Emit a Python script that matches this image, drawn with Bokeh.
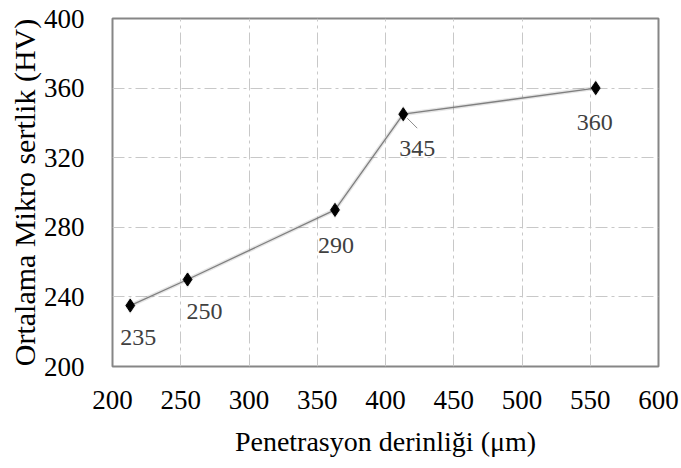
from bokeh.plotting import figure
from bokeh.models import ColumnDataSource, Range1d, FixedTicker
from bokeh.core.properties import value
from bokeh.embed import file_html
from bokeh.resources import INLINE

# Penetration depth (µm) and mean micro-hardness (HV)
depth = [213, 255, 363, 413, 554]
hardness = [235, 250, 290, 345, 360]
point_labels = ["235", "250", "290", "345", "360"]
x_ticks = [200, 250, 300, 350, 400, 450, 500, 550, 600]
y_ticks = [200, 240, 280, 320, 360, 400]

# label placement in screen pixels (right, down) relative to each point
lab_dx = [8, 17, 1, 14, -1]
lab_dy = [32, 32, 36, 34, 34]

FONT = "'Liberation Serif', 'Times New Roman', serif"

p = figure(width=681, height=468, output_backend="svg", toolbar_location=None,
           x_range=Range1d(200, 600), y_range=Range1d(200, 400),
           min_border_left=112, min_border_right=23,
           min_border_top=18, min_border_bottom=102)
p.background_fill_color = "white"
p.border_fill_color = "white"
p.outline_line_color = "#868686"
p.outline_line_width = 2

for ax in (p.xaxis, p.yaxis):
    ax.axis_line_color = None
    ax.major_tick_line_color = None
    ax.minor_tick_line_color = None
    ax.major_label_text_font = FONT
    ax.major_label_text_font_size = "27px"
    ax.major_label_text_color = "black"
    ax.axis_label_text_font = FONT
    ax.axis_label_text_font_style = "normal"
    ax.axis_label_text_color = "black"

p.xaxis.axis_label_text_font_size = "28px"
p.yaxis.axis_label_text_font_size = "30px"
p.xaxis.ticker = FixedTicker(ticks=x_ticks)
p.yaxis.ticker = FixedTicker(ticks=y_ticks)
p.xaxis.major_label_standoff = 18
p.yaxis.major_label_standoff = 22
p.xaxis.axis_label = "Penetrasyon derinliği (μm)"
p.yaxis.axis_label = "Ortalama Mikro sertlik (HV)"
p.xaxis.axis_label_standoff = 14
p.yaxis.axis_label_standoff = 0

for g in (p.xgrid, p.ygrid):
    g.grid_line_color = "#c8c8c8"
    g.grid_line_width = 1
    g.grid_line_dash = "12 4 3 4"

src = ColumnDataSource(dict(x=depth, y=hardness, t=point_labels, dx=lab_dx, dy=lab_dy))

# soft shadow beneath series
p.line("x", "y", source=src, line_color="#000000", line_alpha=0.10, line_width=4)
p.line("x", "y", source=src, line_color="#7f7f7f", line_width=1.3)
p.scatter("x", "y", source=src, marker="diamond", size=17, fill_color="#000000",
          fill_alpha=0.12, line_color=None)
p.scatter("x", "y", source=src, marker="diamond", size=13, fill_color="black",
          line_color="black")

# short leader line for the 345 label
i = 3
sx = 400 / 546.0
sy = 200 / 348.0
p.segment(x0=[depth[i] + 4 * sx], y0=[hardness[i] - 4 * sy],
          x1=[depth[i] + 14 * sx], y1=[hardness[i] - 14 * sy],
          line_color="#8c8c8c", line_width=1)

p.text("x", "y", text="t", source=src, x_offset="dx", y_offset="dy",
       text_align="center", text_baseline="middle",
       text_font=value(FONT), text_font_size="24px", text_color="#404040")

open("out.html", "w").write(file_html(p, INLINE))
